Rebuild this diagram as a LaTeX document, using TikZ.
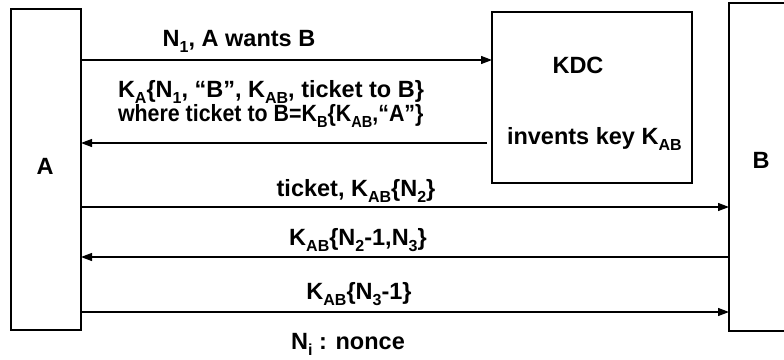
\documentclass[tikz,border=0pt]{standalone}
\usepackage{fontspec}
\setmainfont{Liberation Sans}
\usetikzlibrary{arrows.meta,calc}
% lowered index in the message labels
\newcommand{\lo}[1]{\raisebox{-6pt}{\fontsize{16}{16}\selectfont #1}}

\begin{document}
\begin{tikzpicture}[x=1pt,y=-1pt,
  every node/.style={font=\fontsize{23.5}{23.5}\selectfont\bfseries, inner sep=0pt, outer sep=0pt},
  party/.style={draw, line width=1.2pt, anchor=north west},
  msg/.style={line width=1.2pt, -{Triangle[length=11pt,width=8pt]}},
  lbl/.style={anchor=base}]
\clip (0,0) rectangle (784,359);
\fill[white] (0,0) rectangle (784,359);

% the three parties
\node[party, minimum width=70pt, minimum height=321pt] (A) at (11,9) {};
\node[party, minimum width=200pt, minimum height=171pt] (kdcbox) at (492,12) {};
\node[party, minimum width=120pt, minimum height=328pt] (B) at (729,3) {};

\node[lbl] (la) at (45,174) {A};
\node[lbl] (lb) at (761,168) {B};
\node[lbl] (kdc) at (578,73) {KDC};
\node[anchor=base west] (inv) at (507,144) {invents key K\lo{AB}};

% heights of the message lines
\coordinate (y1) at (0,60);
\coordinate (y2) at (0,143);
\coordinate (y3) at (0,207);
\coordinate (y4) at (0,257);
\coordinate (y5) at (0,312);

\draw[msg] (A.east |- y1) -- (kdcbox.west |- y1);
\draw[msg] ($(kdcbox.west |- y2)+(-5,0)$) -- (A.east |- y2);
\draw[msg] (A.east |- y3) -- (B.west |- y3);
\draw[msg] (B.west |- y4) -- (A.east |- y4);
\draw[msg] (A.east |- y5) -- (B.west |- y5);

% message contents
\node[lbl] (m1) at (239,46) {N\lo{1}, A wants B};
\node[anchor=base west] (m2a) at (118,97) {K\lo{A}\{N\lo{1}, “B”, K\lo{AB}, ticket to B\}};
\node[anchor=base west] (m2b) at (118,121) {\scalebox{0.91}[1]{where ticket to B=K\lo{B}\{K\lo{AB},“A”\}}};
\node[lbl] (m3) at (356,196) {ticket, K\lo{AB}\{N\lo{2}\}};
\node[lbl] (m4) at (358,245) {K\lo{AB}\{N\lo{2}-1,N\lo{3}\}};
\node[lbl] (m5) at (359,299) {K\lo{AB}\{N\lo{3}-1\}};
\node[lbl] (note) at (348,349) {N\lo{i} : nonce};
\end{tikzpicture}
\end{document}
